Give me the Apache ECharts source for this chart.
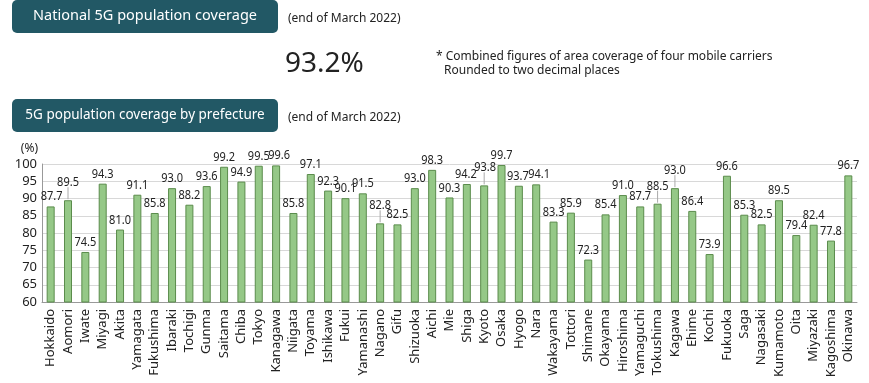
<!DOCTYPE html>
<html>
<head>
<meta charset="utf-8">
<script src="https://cdn.jsdelivr.net/npm/echarts@6/dist/echarts.min.js"></script>
<style>
html,body{margin:0;padding:0;background:#fff;}
#chart{width:869px;height:383px;}
</style>
</head>
<body>
<div id="chart"></div>
<script>
const prefectures = ['Hokkaido','Aomori','Iwate','Miyagi','Akita','Yamagata','Fukushima','Ibaraki','Tochigi','Gunma','Saitama','Chiba','Tokyo','Kanagawa','Niigata','Toyama','Ishikawa','Fukui','Yamanashi','Nagano','Gifu','Shizuoka','Aichi','Mie','Shiga','Kyoto','Osaka','Hyogo','Nara','Wakayama','Tottori','Shimane','Okayama','Hiroshima','Yamaguchi','Tokushima','Kagawa','Ehime','Kochi','Fukuoka','Saga','Nagasaki','Kumamoto','Oita','Miyazaki','Kagoshima','Okinawa'];
const coverage = [87.7,89.5,74.5,94.3,81.0,91.1,85.8,93.0,88.2,93.6,99.2,94.9,99.5,99.6,85.8,97.1,92.3,90.1,91.5,82.8,82.5,93.0,98.3,90.3,94.2,93.8,99.7,93.7,94.1,83.3,85.9,72.3,85.4,91.0,87.7,88.5,93.0,86.4,73.9,96.6,85.3,82.5,89.5,79.4,82.4,77.8,96.7];
const yTicks = [60,65,70,75,80,85,90,95,100];
const nationalCoverage = '93.2%';
const title1 = 'National 5G population coverage';
const title2 = '5G population coverage by prefecture';
const dateNote = '(end of March 2022)';
const footNote1 = '* Combined figures of area coverage of four mobile carriers';
const footNote2 = 'Rounded to two decimal places';
// label placement tweaks (style, not data)
const liftedLabels = ['Aomori','Nagano','Kyoto','Tokushima','Kagawa'];
const labelNudgeX = {Hokkaido: 1, Kanagawa: 3, Hyogo: -1, Nara: 3, Shiga: -1, Kyoto: 1};

const FONT = '"Noto Sans", sans-serif';
const LIFT = 8;
const isLifted = i => liftedLabels.indexOf(prefectures[i]) >= 0;
const labelData = coverage.map((v, i) => [i, v, isLifted(i) ? 1 : 0, labelNudgeX[prefectures[i]] || 0]);

const chart = echarts.init(document.getElementById('chart'));
chart.setOption({
  animation: false,
  textStyle: {fontFamily: FONT},
  grid: {left: 42, right: 12, top: 164, bottom: 81},
  graphic: [
    {type:'rect', shape:{x:12,y:0,width:266,height:33,r:5}, style:{fill:'#225865'}},
    {type:'text', x:145, y:16, style:{text:title1, fill:'#fff', font:'14.5px '+FONT, align:'center', verticalAlign:'middle'}},
    {type:'text', x:288, y:19, style:{text:dateNote, fill:'#222', font:'12px '+FONT, verticalAlign:'middle'}},
    {type:'text', x:285, y:64, style:{text:nationalCoverage, fill:'#222', font:'28px '+FONT, verticalAlign:'middle'}},
    {type:'text', x:436, y:57, style:{text:footNote1, fill:'#222', font:'12px '+FONT, verticalAlign:'middle'}},
    {type:'text', x:444, y:71, style:{text:footNote2, fill:'#222', font:'12px '+FONT, verticalAlign:'middle'}},
    {type:'rect', shape:{x:12,y:99,width:266,height:33,r:5}, style:{fill:'#225865'}},
    {type:'text', x:145, y:115, style:{text:title2, fill:'#fff', font:'13.5px '+FONT, align:'center', verticalAlign:'middle'}},
    {type:'text', x:288, y:118, style:{text:dateNote, fill:'#222', font:'12px '+FONT, verticalAlign:'middle'}}
  ],
  xAxis: {
    type: 'category',
    data: prefectures,
    axisLine: {lineStyle: {color: '#999'}},
    axisTick: {inside: true, length: 5, lineStyle: {color: '#bbb'}},
    axisLabel: {rotate: 90, interval: 0, fontSize: 13, color: '#222', margin: 7, fontFamily: FONT}
  },
  yAxis: {
    type: 'value',
    min: yTicks[0], max: yTicks[yTicks.length-1], interval: 5,
    name: '(%)', nameGap: 9,
    nameTextStyle: {align: 'right', fontSize: 12, color: '#222', padding: [0, 4, 0, 0]},
    axisLine: {show: true, lineStyle: {color: '#999'}},
    axisTick: {show: false},
    axisLabel: {fontSize: 13, color: '#222', margin: 5},
    splitLine: {lineStyle: {color: '#d8d8d8'}}
  },
  series: [{
    type: 'bar',
    data: coverage,
    barWidth: 8,
    itemStyle: {color: '#95c887', borderColor: '#5b8c4c', borderWidth: 1},
    z: 2
  }, {
    type: 'custom',
    data: labelData,
    z: 3,
    silent: true,
    clip: false,
    renderItem: function (params, api) {
      const p = api.coord([api.value(0), api.value(1)]);
      const lifted = api.value(2);
      const dx = api.value(3);
      const top = p[1] - 1;
      const ty = top - 2 - (lifted ? LIFT : 0);
      const children = [{
        type: 'text', x: p[0] + dx, y: ty, scaleX: 0.88,
        style: {text: api.value(1).toFixed(1), fill: '#222', font: '12.5px ' + FONT, align: 'center', verticalAlign: 'bottom'}
      }];
      if (lifted) {
        children.push({type: 'line', shape: {x1: p[0], y1: top, x2: p[0], y2: ty - 2},
                       style: {stroke: '#aaa', lineWidth: 1}});
      }
      return {type: 'group', children: children};
    }
  }]
});
</script>
</body>
</html>
